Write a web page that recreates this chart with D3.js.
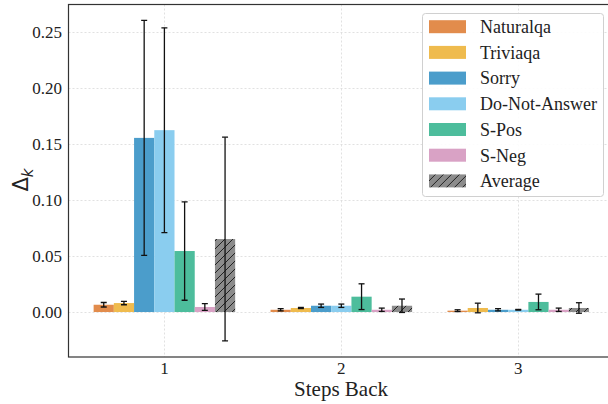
<!DOCTYPE html>
<html>
<head>
<meta charset="utf-8">
<script src="https://cdn.jsdelivr.net/npm/d3@7"></script>
<style>
  body { margin: 0; background: #fff; }
  svg { display: block; }
</style>
</head>
<body>
<div id="chart"></div>
<script>
// steps back on the x axis
var steps = [1, 2, 3];
var seriesNames = ["Naturalqa", "Triviaqa", "Sorry", "Do-Not-Answer", "S-Pos", "S-Neg", "Average"];
var seriesColors = ["#E28C4C", "#EFBB4E", "#4B9DCB", "#8ACDEF", "#4DBD9C", "#D9A2C5", "#8C8C8C"];

// mean delta per series, one value per step
var naturalqa = [0.0065, 0.0020, 0.0012];
var triviaqa = [0.0080, 0.0036, 0.0036];
var sorry = [0.1556, 0.0056, 0.0020];
var doNotAnswer = [0.1625, 0.0056, 0.0020];
var sPos = [0.0545, 0.0137, 0.0090];
var sNeg = [0.0045, 0.0020, 0.0020];
var average = [0.0652, 0.0056, 0.0036];

// error bar half widths
var naturalqaErr = [0.0020, 0.0010, 0.0008];
var triviaqaErr = [0.0015, 0.0005, 0.0043];
var sorryErr = [0.1050, 0.0015, 0.0010];
var doNotAnswerErr = [0.0915, 0.0015, 0.0003];
var sPosErr = [0.0440, 0.0115, 0.0070];
var sNegErr = [0.0030, 0.0015, 0.0015];
var averageErr = [0.0910, 0.0060, 0.0047];

var yTicks = [0.00, 0.05, 0.10, 0.15, 0.20, 0.25];

var values = [naturalqa, triviaqa, sorry, doNotAnswer, sPos, sNeg, average];
var errors = [naturalqaErr, triviaqaErr, sorryErr, doNotAnswerErr, sPosErr, sNegErr, averageErr];

var W = 608, H = 404;
var padL = 68.5, padT = 4.5, padB = 357, padR = 620;
var serif = "'Liberation Serif', 'Times New Roman', serif";

var svg = d3.select("#chart").append("svg").attr("width", W).attr("height", H);

var defs = svg.append("defs");
var pat = defs.append("pattern").attr("id", "hatch").attr("patternUnits", "userSpaceOnUse")
    .attr("width", 8).attr("height", 8);
pat.append("rect").attr("width", 8).attr("height", 8).attr("fill", seriesColors[6]);
pat.append("path").attr("d", "M-2,2 L2,-2 M0,8 L8,0 M6,10 L10,6")
    .attr("stroke", "#222").attr("stroke-width", 1);

// x is a linear scale of the step number, like matplotlib
var x = d3.scaleLinear().domain([0.458, 3.575]).range([padL, padR]);
var y = d3.scaleLinear().domain([-0.0402, 0.2748]).range([padB, padT]);

var groupWidth = 0.8;
var barW = groupWidth / seriesNames.length;

var clip = defs.append("clipPath").attr("id", "plotclip");
clip.append("rect").attr("x", padL).attr("y", padT).attr("width", padR - padL).attr("height", padB - padT);

var plot = svg.append("g").attr("clip-path", "url(#plotclip)");

// grid
plot.selectAll(".hgrid").data(yTicks).enter().append("line")
    .attr("x1", padL).attr("x2", padR)
    .attr("y1", function (d) { return Math.round(y(d)) + 0.5; })
    .attr("y2", function (d) { return Math.round(y(d)) + 0.5; })
    .attr("stroke", "#d9d9d9").attr("stroke-width", 0.8).attr("stroke-dasharray", "2,2");
plot.selectAll(".vgrid").data(steps).enter().append("line")
    .attr("y1", padT).attr("y2", padB)
    .attr("x1", function (d) { return Math.round(x(d)) + 0.5; })
    .attr("x2", function (d) { return Math.round(x(d)) + 0.5; })
    .attr("stroke", "#d9d9d9").attr("stroke-width", 0.8).attr("stroke-dasharray", "2,2");

// bars
for (var s = 0; s < seriesNames.length; s++) {
    var offset = -groupWidth / 2 + s * barW;
    var rows = steps.map(function (st, i) { return {step: st, v: values[s][i], e: errors[s][i]}; });
    plot.selectAll(".bar" + s).data(rows).enter().append("rect")
        .attr("x", function (d) { return x(d.step + offset); })
        .attr("width", x(barW) - x(0))
        .attr("y", function (d) { return y(Math.max(0, d.v)); })
        .attr("height", function (d) { return Math.abs(y(d.v) - y(0)); })
        .attr("fill", s == 6 ? "url(#hatch)" : seriesColors[s]);
}

// error bars
for (var s = 0; s < seriesNames.length; s++) {
    var offset = -groupWidth / 2 + (s + 0.5) * barW;
    var rows = steps.map(function (st, i) { return {step: st, v: values[s][i], e: errors[s][i]}; });
    var eg = plot.selectAll(".err" + s).data(rows).enter().append("g").attr("stroke", "#111").attr("stroke-width", 1.3);
    eg.append("line")
        .attr("x1", function (d) { return x(d.step + offset); })
        .attr("x2", function (d) { return x(d.step + offset); })
        .attr("y1", function (d) { return y(d.v - d.e); })
        .attr("y2", function (d) { return y(d.v + d.e); });
    [-1, 1].forEach(function (sign) {
        eg.append("line")
            .attr("x1", function (d) { return x(d.step + offset) - 3; })
            .attr("x2", function (d) { return x(d.step + offset) + 3; })
            .attr("y1", function (d) { return y(d.v + sign * d.e); })
            .attr("y2", function (d) { return y(d.v + sign * d.e); });
    });
}

// spines
svg.append("rect").attr("x", padL).attr("y", padT).attr("width", padR - padL).attr("height", padB - padT)
    .attr("fill", "none").attr("stroke", "#333").attr("stroke-width", 1.2);

// tick labels
svg.selectAll(".ylab").data(yTicks).enter().append("text")
    .attr("x", 62).attr("y", function (d) { return y(d); }).attr("dy", "0.35em")
    .attr("text-anchor", "end").attr("font-family", serif).attr("font-size", 17)
    .attr("fill", "#222").text(function (d) { return d.toFixed(2); });
svg.selectAll(".xlab").data(steps).enter().append("text")
    .attr("x", function (d) { return x(d); }).attr("y", 374)
    .attr("text-anchor", "middle").attr("font-family", serif).attr("font-size", 17)
    .attr("fill", "#222").text(function (d) { return d; });

svg.append("text").attr("x", 341).attr("y", 396).attr("text-anchor", "middle")
    .attr("font-family", serif).attr("font-size", 21).attr("fill", "#222").text("Steps Back");

var yl = svg.append("text").attr("transform", "translate(28,180) rotate(-90)").attr("text-anchor", "middle")
    .attr("font-family", "DejaVu Sans").attr("font-size", 21).attr("fill", "#222");
yl.append("tspan").text("Δ");
yl.append("tspan").attr("font-style", "italic").attr("font-size", 15).attr("dy", 5).text("k");

// legend
var lg = svg.append("g");
lg.append("rect").attr("x", 422.5).attr("y", 13.5).attr("width", 181).attr("height", 183).attr("rx", 3)
    .attr("fill", "#fff").attr("fill-opacity", 0.9).attr("stroke", "#d0d0d0").attr("stroke-width", 1);
var items = lg.selectAll(".item").data(seriesNames).enter().append("g")
    .attr("transform", function (d, i) { return "translate(429," + (26.7 + i * 25.7) + ")"; });
items.append("rect").attr("x", 0).attr("y", -6.5).attr("width", 37).attr("height", 13)
    .attr("fill", function (d, i) { return i == 6 ? "url(#hatch)" : seriesColors[i]; });
items.append("text").attr("x", 51).attr("dy", "0.35em").attr("font-family", serif)
    .attr("font-size", 18).attr("fill", "#222").text(function (d) { return d; });
</script>
</body>
</html>
